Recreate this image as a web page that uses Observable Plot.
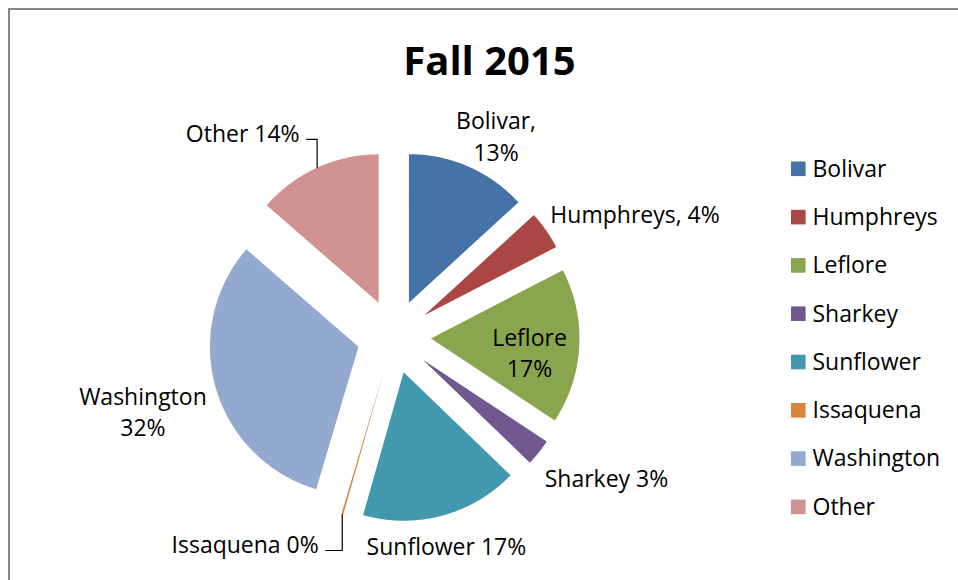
<!DOCTYPE html>
<html><head><meta charset="utf-8">
<script src="https://cdn.jsdelivr.net/npm/d3@7"></script>
<script src="https://cdn.jsdelivr.net/npm/@observablehq/plot@0.6"></script>
<style>
html,body{margin:0;padding:0;background:#fff;overflow:hidden;}
#chart{position:relative;width:958px;height:580px;overflow:hidden;background:#fff;}
#chart::after{content:"";position:absolute;left:8px;top:8px;width:1200px;height:1200px;border:2px solid #878787;pointer-events:none;}
</style></head><body><div id="chart"></div>
<script>
// ---- data ----
const title = "Fall 2015";
const counties = ["Bolivar","Humphreys","Leflore","Sharkey","Sunflower","Issaquena","Washington","Other"];
const shares = [13.2, 4.2, 16.9, 2.9, 17.2, 0.2, 31.8, 13.6];
const percentLabels = ["13%","4%","17%","3%","17%","0%","32%","14%"];
const colors = ["#4572A7","#AA4643","#89A54E","#71588F","#4198AF","#DB843D","#93A9CF","#D19392"];

// ---- layout ----
const W = 958, H = 580;
const CX = 393.5, CY = 336, R = 148.5, EXPLODE = 37;
const FONT = "'Open Sans', sans-serif";
const FS = 23;
const TITLE_X = 489, TITLE_Y = 62, TITLE_FS = 40;
const LEG_X = 791, LEG_BOX = 14.6, LEG_TEXT_X = 812, LEG_Y0 = 168.8, LEG_STEP = 48.3;

// label placement: polar position around the pie centre (angle = slice mid-angle + shift)
const labelLayout = {
  Bolivar:    {sep: ",\n", shift:  3.1, dist: 225.9, anchor: "middle"},
  Humphreys:  {sep: ", ",  shift: -3.4, dist: 199.3, anchor: "start"},
  Leflore:    {sep: "\n",  shift:  3.1, dist: 136.3, anchor: "middle"},
  Sharkey:    {sep: " ",   shift:  4.3, dist: 206.0, anchor: "start"},
  Sunflower:  {sep: " ",   shift:  1.0, dist: 214.8, anchor: "middle"},
  Issaquena:  {sep: " ",   shift:  3.8, dist: 219.9, anchor: "end", leader: true},
  Washington: {sep: "\n",  shift: -0.2, dist: 261.7, anchor: "middle"},
  Other:      {sep: " ",   shift: -0.3, dist: 225.2, anchor: "end", leader: true}
};

const data = counties.map((name, i) => ({name, share: shares[i], pct: percentLabels[i]}));
const arcs = d3.pie().sort(null).value(d => d.share)(data);

const polar = (cx, cy, r, a) => [cx + r * Math.sin(a), cy - r * Math.cos(a)];

const slicePts = [];
const labels = [];
const leaders = [];
arcs.forEach(a => {
  const name = a.data.name;
  const mid = (a.startAngle + a.endAngle) / 2;
  const [ex, ey] = polar(CX, CY, EXPLODE, mid);
  slicePts.push({name, x: ex, y: ey});
  const steps = Math.max(2, Math.ceil((a.endAngle - a.startAngle) / (Math.PI / 360)));
  for (let k = 0; k <= steps; k++) {
    const t = a.startAngle + (a.endAngle - a.startAngle) * k / steps;
    const [px, py] = polar(ex, ey, R, t);
    slicePts.push({name, x: px, y: py});
  }
  const L = labelLayout[name];
  const [lx, ly] = polar(CX, CY, L.dist, mid + L.shift * Math.PI / 180);
  labels.push({name, x: lx, y: ly, text: name + L.sep + a.data.pct, anchor: L.anchor});
  if (L.leader) {
    const [ox, oy] = polar(ex, ey, R, mid);
    const by = ly + 0.32 * FS;
    leaders.push({name, x: lx + 7, y: by});
    leaders.push({name, x: ox, y: by});
    leaders.push({name, x: ox, y: oy});
  }
});

const legend = counties.map((name, i) => ({name, y: LEG_Y0 + i * LEG_STEP}));

const textOpts = {x: "x", y: "y", text: "text", fill: "black", fontSize: FS, lineHeight: 1.36};

const chart = Plot.plot({
  width: W, height: H, margin: 0,
  x: {domain: [0, W], range: [0, W], axis: null},
  y: {domain: [0, H], range: [0, H], axis: null},
  color: {domain: counties, range: colors},
  style: {fontFamily: FONT, background: "transparent", overflow: "visible"},
  marks: [
    Plot.line(slicePts, {x: "x", y: "y", z: "name", fill: "name", stroke: "none", curve: "linear-closed"}),
    Plot.line(leaders, {x: "x", y: "y", z: "name", stroke: "black", strokeWidth: 1.2}),
    Plot.text(labels.filter(d => d.anchor === "middle"), {...textOpts, textAnchor: "middle"}),
    Plot.text(labels.filter(d => d.anchor === "start"), {...textOpts, textAnchor: "start"}),
    Plot.text(labels.filter(d => d.anchor === "end"), {...textOpts, textAnchor: "end"}),
    Plot.rect(legend, {x1: () => LEG_X, x2: () => LEG_X + LEG_BOX, y1: d => d.y - LEG_BOX / 2, y2: d => d.y + LEG_BOX / 2, fill: "name"}),
    Plot.text(legend, {x: () => LEG_TEXT_X, y: "y", text: "name", textAnchor: "start", fill: "black", fontSize: FS}),
    Plot.text([title], {x: () => TITLE_X, y: () => TITLE_Y, text: d => d, textAnchor: "middle", fill: "black", fontSize: TITLE_FS, fontWeight: "bold"})
  ]
});
document.getElementById("chart").appendChild(chart);
</script></body></html>
